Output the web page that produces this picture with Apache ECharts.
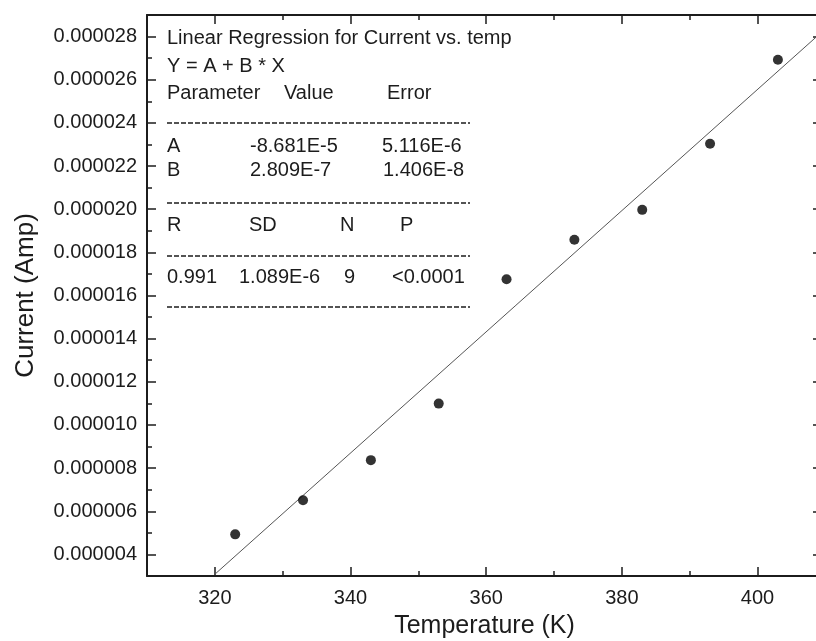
<!DOCTYPE html>
<html><head><meta charset="utf-8">
<script src="https://cdn.jsdelivr.net/npm/echarts@6/dist/echarts.min.js"></script>
<style>html,body{margin:0;padding:0;background:#fff}#c{width:816px;height:641px}</style>
</head><body><div id="c"></div>
<script>
// ---- data ----
const temperature = [323, 333, 343, 353, 363, 373, 383, 393, 403];
const current = [4.93e-6, 6.51e-6, 8.37e-6, 10.99e-6, 16.75e-6, 18.58e-6, 19.97e-6, 23.03e-6, 26.93e-6];
const fitLineX = [320, 409.5];
const fitLineY = [3.08e-6, 28.22e-6];
const xMajorTicks = [320, 340, 360, 380, 400];
const xMinorTicks = [330, 350, 370, 390];
const yMajorTicks = [0.000004, 0.000006, 0.000008, 0.000010, 0.000012, 0.000014, 0.000016, 0.000018, 0.000020, 0.000022, 0.000024, 0.000026, 0.000028];
const yMinorTicks = [0.000005, 0.000007, 0.000009, 0.000011, 0.000013, 0.000015, 0.000017, 0.000019, 0.000021, 0.000023, 0.000025, 0.000027];
const xTitle = 'Temperature (K)';
const yTitle = 'Current (Amp)';
const regTitle = 'Linear Regression for Current vs. temp';
const regEquation = 'Y = A + B * X';
const regHeader = ['Parameter', 'Value', 'Error'];
const regRowA = ['A', '-8.681E-5', '5.116E-6'];
const regRowB = ['B', '2.809E-7', '1.406E-8'];
const statHeader = ['R', 'SD', 'N', 'P'];
const statRow = ['0.991', '1.089E-6', '9', '<0.0001'];

// ---- layout ----
const FONT = 'Liberation Sans, Arial, sans-serif';
const INK = '#1c1c1c';
const X_MIN = 310, X_MAX = 409.5, Y_MIN = 0.000003, Y_MAX = 0.000029;

function tickAxis(pos, isX, ticks, len, opts) {
  const a = {
    type: 'value', position: pos, min: isX ? X_MIN : Y_MIN, max: isX ? X_MAX : Y_MAX,
    splitLine: { show: false },
    axisLine: { show: !!(opts && opts.line), onZero: false, lineStyle: { color: INK, width: 2 } },
    axisTick: { show: true, inside: true, length: len, customValues: ticks, lineStyle: { color: INK, width: 1.5 } },
    axisLabel: { show: false }
  };
  return Object.assign(a, opts && opts.extra || {});
}

const xAxes = [
  tickAxis('bottom', true, xMajorTicks, 9, { line: true, extra: {
    axisLabel: { show: true, customValues: xMajorTicks, fontFamily: FONT, fontSize: 20, color: INK, margin: 12 },
    name: xTitle, nameLocation: 'middle', nameGap: 38,
    nameTextStyle: { fontFamily: FONT, fontSize: 25, color: INK }
  }}),
  tickAxis('bottom', true, xMinorTicks, 5),
  tickAxis('top', true, xMajorTicks, 9, { line: true }),
  tickAxis('top', true, xMinorTicks, 5)
];
const yAxes = [
  tickAxis('left', false, yMajorTicks, 9, { line: true, extra: {
    axisLabel: { show: true, customValues: yMajorTicks, fontFamily: FONT, fontSize: 20, color: INK, margin: 10,
      formatter: v => v.toFixed(6) },
    name: yTitle, nameLocation: 'middle', nameGap: 108,
    nameTextStyle: { fontFamily: FONT, fontSize: 26, color: INK }
  }}),
  tickAxis('left', false, yMinorTicks, 5),
  tickAxis('right', false, yMajorTicks, 9, { line: true }),
  tickAxis('right', false, yMinorTicks, 5)
];

// annotation text block
function txt(s, x, y) {
  return { type: 'text', left: x, top: y - 12, style: { text: s, font: '20px ' + FONT, fill: INK } };
}
function dash(y) {
  return { type: 'line', shape: { x1: 167, y1: y, x2: 470, y2: y }, style: { stroke: INK, lineWidth: 1.4, lineDash: [5, 2] } };
}
const graphics = [
  txt(regTitle, 167, 40),
  txt(regEquation, 167, 68),
  txt(regHeader[0], 167, 95), txt(regHeader[1], 284, 95), txt(regHeader[2], 387, 95),
  dash(123),
  txt(regRowA[0], 167, 148), txt(regRowA[1], 250, 148), txt(regRowA[2], 382, 148),
  txt(regRowB[0], 167, 172), txt(regRowB[1], 250, 172), txt(regRowB[2], 383, 172),
  dash(203),
  txt(statHeader[0], 167, 227), txt(statHeader[1], 249, 227), txt(statHeader[2], 340, 227), txt(statHeader[3], 400, 227),
  dash(256),
  txt(statRow[0], 167, 279), txt(statRow[1], 239, 279), txt(statRow[2], 344, 279), txt(statRow[3], 392, 279),
  dash(307)
];

const chart = echarts.init(document.getElementById('c'), null, { renderer: 'canvas' });
chart.setOption({
  animation: false,
  backgroundColor: '#fff',
  grid: { left: 147, top: 15, width: 675, height: 561, containLabel: false, outerBoundsMode: 'none' },
  xAxis: xAxes,
  yAxis: yAxes,
  graphic: graphics,
  series: [
    { type: 'line', xAxisIndex: 0, yAxisIndex: 0, data: fitLineX.map((x, i) => [x, fitLineY[i]]),
      showSymbol: false, symbol: 'none', lineStyle: { color: '#555', width: 1 }, z: 2 },
    { type: 'scatter', xAxisIndex: 0, yAxisIndex: 0, data: temperature.map((t, i) => [t, current[i]]),
      symbol: 'circle', symbolSize: 10, itemStyle: { color: '#000' }, z: 3 }
  ]
});
</script></body></html>
